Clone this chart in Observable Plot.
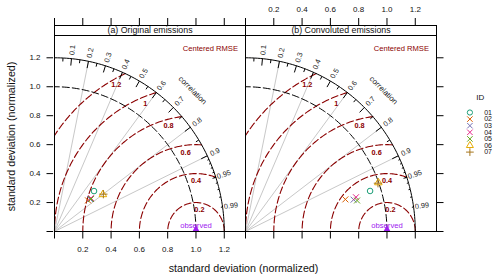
<!DOCTYPE html>
<html><head><meta charset="utf-8">
<script src="https://cdn.jsdelivr.net/npm/d3@7"></script>
<script src="https://cdn.jsdelivr.net/npm/@observablehq/plot@0.6"></script>
<style>body{margin:0;background:#fff}</style>
</head><body><div id="chart"></div>
<script>
// ---- data ----
const panels = ["(a) Original emissions", "(b) Convoluted emissions"];
const ids = ["01", "02", "03", "04", "05", "06", "07"];
const sdOriginal = [0.395, 0.320, 0.337, 0.346, 0.342, 0.427, 0.431];
const corOriginal = [0.707, 0.741, 0.747, 0.746, 0.755, 0.801, 0.801];
const sdConvoluted = [0.924, 0.740, 0.795, 0.816, 0.817, 0.998, 0.994];
const corConvoluted = [0.953, 0.954, 0.961, 0.957, 0.965, 0.941, 0.942];
const idColors = ["#1B9E77", "#D95F02", "#7570B3", "#E7298A", "#66A61E", "#E6AB02", "#A6761D"];
const idSymbols = ["circle", "times", "times", "times", "times", "triangle", "plus"];
const sdTicks = [0, 0.2, 0.4, 0.6, 0.8, 1.0, 1.2];
const sdTickLabels = ["", "0.2", "0.4", "0.6", "0.8", "1.0", "1.2"];
const corLabelValues = [0.1, 0.2, 0.3, 0.4, 0.5, 0.6, 0.7, 0.8, 0.9, 0.95, 0.99];
const corGridValues = [0.2, 0.4, 0.6, 0.8, 0.9];
const corBigTicks = [0.1, 0.2, 0.3, 0.4, 0.5, 0.6, 0.7, 0.8, 0.9];
const corMedTicks = [0.05, 0.15, 0.25, 0.35, 0.45, 0.55, 0.65, 0.75, 0.85, 0.95];
const corSmallTicks = [0.91, 0.92, 0.93, 0.94, 0.95, 0.96, 0.97, 0.98, 0.99];
const rmsValues = [0.2, 0.4, 0.6, 0.8, 1.0, 1.2];
const rmsLabels = ["0.2", "0.4", "0.6", "0.8", "1", "1.2"];
const obsSd = 1.0;
const maxSd = 1.2;

// ---- layout ----
const W = 500, H = 280, mL = 53.5, mR = 62.7, mT = 35, mB = 49;
const bw = (W - mL - mR) / 2;
const xMax = 1.35, yMax = 1.354;
const rmsLabelAngles = [83, 90, 97, 104, 111, 118];
const darkred = "#8B0000";
const font = "Liberation Sans, Arial, Helvetica, sans-serif";
const deg = Math.PI / 180;

function arcPoints(cx, r, t0, t1, key) {
  const n = 90, pts = [];
  for (let i = 0; i <= n; i++) {
    const t = t0 + (t1 - t0) * i / n;
    pts.push({key, x: cx + r * Math.cos(t), y: r * Math.sin(t)});
  }
  return pts;
}

const rows = panels.flatMap((p, k) => ids.map((id, i) => {
  const sd = k ? sdConvoluted[i] : sdOriginal[i];
  const c = k ? corConvoluted[i] : corOriginal[i];
  return {panel: p, id, x: sd * c, y: sd * Math.sqrt(1 - c * c)};
}));

// centred RMS arcs about the observed point, clipped to the outer arc and x >= 0
const rmsArcs = rmsValues.flatMap(r => {
  const c0 = Math.max(-1, Math.min(1, (maxSd * maxSd - obsSd * obsSd - r * r) / (2 * obsSd * r)));
  const t0 = Math.acos(c0);
  const t1 = r > obsSd ? Math.acos(-obsSd / r) : Math.PI;
  return arcPoints(obsSd, r, t0, t1, r);
});
const rmsLabelPts = rmsValues.map((r, i) => ({
  x: obsSd + r * Math.cos(rmsLabelAngles[i] * deg),
  y: r * Math.sin(rmsLabelAngles[i] * deg),
  t: rmsLabels[i]
}));

const tickSeg = (vals, f) => vals.map(c => {
  const a = Math.acos(c);
  return {x1: maxSd * Math.cos(a), y1: maxSd * Math.sin(a), x2: f * maxSd * Math.cos(a), y2: f * maxSd * Math.sin(a)};
});

const inPanel = k => () => panels[k];

const legendMarks = ids.flatMap((id, i) => [
  Plot.dot([id], {fx: inPanel(1), frameAnchor: "top-right", dx: 33.4, dy: 77 + 6.6 * i,
    symbol: d => d, stroke: d => d, fill: "none", r: 2.6, strokeWidth: 1}),
  Plot.text([id], {fx: inPanel(1), frameAnchor: "top-right", dx: 47.7, dy: 77 + 6.6 * i,
    text: d => d, textAnchor: "start", lineAnchor: "middle", fontSize: 7, fill: "#111"})
]);

const chart = Plot.plot({
  width: W, height: H,
  marginLeft: mL, marginRight: mR, marginTop: mT, marginBottom: mB,
  x: {domain: [0, xMax], axis: null},
  y: {domain: [0, yMax], axis: null},
  fx: {domain: panels, padding: 0, axis: null},
  color: {domain: ids, range: idColors},
  symbol: {domain: ids, range: idSymbols},
  style: {fontFamily: font, fontSize: "8px", background: "white", overflow: "visible"},
  marks: [
    // correlation grid lines
    Plot.link(corGridValues, {x1: 0, y1: 0, x2: c => maxSd * c, y2: c => maxSd * Math.sqrt(1 - c * c),
      stroke: "#c8c8c8", strokeWidth: 1}),
    // centred RMSE arcs
    Plot.line(rmsArcs, {x: "x", y: "y", z: "key", stroke: darkred, strokeWidth: 1.1, strokeDasharray: "7,3"}),
    // observed sd arc
    Plot.line(arcPoints(0, obsSd, 0, Math.PI / 2, "obs"), {x: "x", y: "y", stroke: "black", strokeWidth: 1, strokeDasharray: "7,3"}),
    // outer arc
    Plot.line(arcPoints(0, maxSd, 0, Math.PI / 2, "max"), {x: "x", y: "y", stroke: "black", strokeWidth: 1}),
    // correlation ticks on outer arc
    Plot.link(tickSeg(corBigTicks, 0.96), {x1: "x1", y1: "y1", x2: "x2", y2: "y2", stroke: "black"}),
    Plot.link(tickSeg(corMedTicks, 0.98), {x1: "x1", y1: "y1", x2: "x2", y2: "y2", stroke: "black"}),
    Plot.link(tickSeg(corSmallTicks, 0.99), {x1: "x1", y1: "y1", x2: "x2", y2: "y2", stroke: "black"}),
    // correlation labels
    Plot.text(corLabelValues, {x: c => 1.05 * maxSd * c, y: c => 1.05 * maxSd * Math.sqrt(1 - c * c),
      rotate: c => -Math.acos(c) / deg, text: c => String(c), fontSize: 7.3, fill: "#222"}),
    Plot.text(["correlation"], {x: 1.15 * maxSd * Math.cos(45 * deg), y: 1.15 * maxSd * Math.sin(45 * deg),
      text: d => d, rotate: 45, fontSize: 7.8, fill: "#222"}),
    // RMSE labels
    Plot.text(rmsLabelPts, {x: "x", y: "y", text: "t", dy: 7, fontSize: 7.3, fontWeight: "bold", fill: darkred}),
    Plot.text(["Centered RMSE"], {frameAnchor: "top-right", dx: -7.5, dy: 13, text: d => d,
      textAnchor: "end", lineAnchor: "middle", fontSize: 7.6, fill: darkred}),
    // observed point
    Plot.dot([obsSd], {x: d => d, y: 0, symbol: "triangle", fill: "#A020F0", stroke: "none", r: 4, clip: true}),
    Plot.text(["observed"], {x: obsSd, y: 0, dy: -5.5, text: d => d, fontSize: 7.7, fill: "#A020F0"}),
    // model points
    Plot.dot(rows, {x: "x", y: "y", fx: "panel", symbol: "id", stroke: "id", fill: "none", r: 2.8, strokeWidth: 1}),
    // panel frame incl. strip, strip divider
    Plot.frame({insetTop: -10, stroke: "black", strokeWidth: 1}),
    Plot.ruleY([yMax], {y: d => d, stroke: "black", strokeWidth: 1}),
    Plot.text(panels, {fx: d => d, text: d => d, frameAnchor: "top", dy: -5, textAnchor: "middle", lineAnchor: "middle", fontSize: 8.8, fill: "#111"}),
    // axis ticks
    Plot.ruleX(sdTicks, {x: d => d, insetTop: -17, insetBottom: H - mB - mT + 10, stroke: "black"}),
    Plot.ruleX(sdTicks, {x: d => d, insetTop: H - mB - mT, insetBottom: -7.5, stroke: "black"}),
    Plot.ruleY(sdTicks, {y: d => d, fx: inPanel(0), insetLeft: -7.5, insetRight: bw, stroke: "black"}),
    Plot.ruleY(sdTicks, {y: d => d, fx: inPanel(1), insetLeft: bw, insetRight: -7.5, stroke: "black"}),
    // tick labels
    Plot.text(sdTicks, {y: d => d, fx: inPanel(0), frameAnchor: "left", dx: -14, textAnchor: "end", lineAnchor: "middle",
      text: (d, i) => sdTickLabels[i], fontSize: 8, fill: "#111"}),
    Plot.text(sdTicks, {x: d => d, fx: inPanel(0), frameAnchor: "bottom", dy: 18, textAnchor: "middle", lineAnchor: "middle",
      text: (d, i) => sdTickLabels[i], fontSize: 8, fill: "#111"}),
    Plot.text(sdTicks, {x: d => d, fx: inPanel(1), frameAnchor: "top", dy: -26, textAnchor: "middle", lineAnchor: "middle",
      text: (d, i) => sdTickLabels[i], fontSize: 8, fill: "#111"}),
    // axis titles
    Plot.text(["standard deviation (normalized)"], {fx: inPanel(0), frameAnchor: "left", dx: -43, dy: 3,
      rotate: -90, textAnchor: "middle", lineAnchor: "middle", text: d => d, fontSize: 10.7, fill: "#111"}),
    Plot.text(["standard deviation (normalized)"], {fx: inPanel(0), frameAnchor: "bottom-right", dx: -2, dy: 37,
      textAnchor: "middle", lineAnchor: "middle", text: d => d, fontSize: 10.7, fill: "#111"}),
    // legend
    Plot.text(["ID"], {fx: inPanel(1), frameAnchor: "top-right", dx: 43.7, dy: 61.7, text: d => d,
      textAnchor: "middle", lineAnchor: "middle", fontSize: 8, fill: "#111"}),
    ...legendMarks
  ]
});
document.getElementById("chart").appendChild(chart);
</script>
</body></html>
